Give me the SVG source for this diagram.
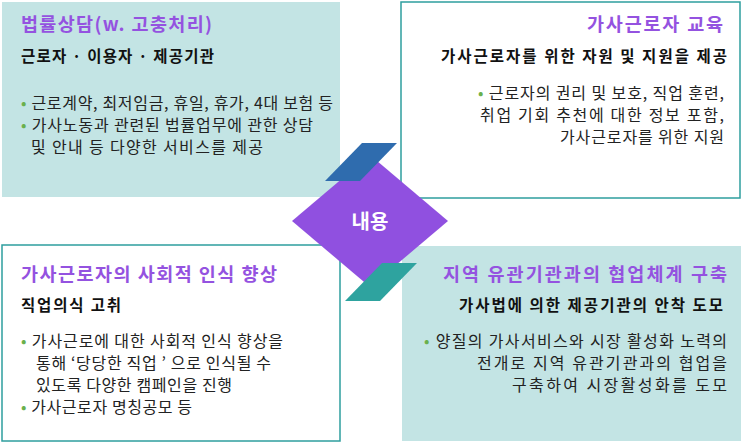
<svg xmlns="http://www.w3.org/2000/svg" width="743" height="443" viewBox="0 0 743 443">
<style>
text{font-family:"Noto Sans CJK KR","Noto Sans",sans-serif;}
.t{font-size:18.5px;font-weight:bold;fill:#9452e0}
.s{font-size:15.5px;font-weight:bold;fill:#111}
.b{font-size:16px;fill:#222}
.g{fill:#6ab04c}
.fill{fill:#c3e4e4}
.line{fill:#fff;stroke:#2e9e9e;stroke-width:1.5}
</style>
<rect width="743" height="443" fill="#fff"/>
<g id="box1">
<rect class="fill" x="2" y="2" width="338" height="195"/>
<text class="t" x="21" y="31" textLength="191" lengthAdjust="spacing">법률상담(w. 고충처리)</text>
<text class="s" x="21" y="62" textLength="193" lengthAdjust="spacing">근로자 · 이용자 · 제공기관</text>
<text class="b" x="21" y="109" textLength="312" lengthAdjust="spacing"><tspan class="g">• </tspan>근로계약, 최저임금, 휴일, 휴가, 4대 보험 등</text>
<text class="b" x="21" y="131" textLength="292" lengthAdjust="spacing"><tspan class="g">• </tspan>가사노동과 관련된 법률업무에 관한 상담</text>
<text class="b" x="31" y="153" textLength="232" lengthAdjust="spacing">및 안내 등  다양한 서비스를 제공</text>
</g>
<g id="box2">
<rect class="line" x="401" y="2" width="339" height="196"/>
<text class="t" x="723" y="31" text-anchor="end" textLength="136" lengthAdjust="spacing">가사근로자 교육</text>
<text class="s" x="727" y="62" text-anchor="end" textLength="286" lengthAdjust="spacing">가사근로자를 위한 자원 및 지원을 제공</text>
<text class="b" x="724" y="99" text-anchor="end" textLength="246" lengthAdjust="spacing"><tspan class="g">• </tspan>근로자의 권리 및 보호, 직업 훈련,</text>
<text class="b" x="724" y="121" text-anchor="end" textLength="244" lengthAdjust="spacing">취업 기회 추천에 대한 정보 포함,</text>
<text class="b" x="724" y="143" text-anchor="end" textLength="164" lengthAdjust="spacing">가사근로자를 위한 지원</text>
</g>
<g id="box3">
<rect class="line" x="2" y="245" width="338" height="196"/>
<text class="t" x="21" y="281" textLength="256" lengthAdjust="spacing">가사근로자의 사회적 인식 향상</text>
<text class="s" x="21" y="311" textLength="100" lengthAdjust="spacing">직업의식 고취</text>
<text class="b" x="21" y="347" textLength="262" lengthAdjust="spacing"><tspan class="g">• </tspan>가사근로에 대한 사회적 인식 향상을</text>
<text class="b" x="36" y="369" textLength="235" lengthAdjust="spacing">통해 ‘당당한 직업 ’ 으로 인식될 수</text>
<text class="b" x="36" y="391" textLength="196" lengthAdjust="spacing">있도록 다양한 캠페인을 진행</text>
<text class="b" x="21" y="413" textLength="171" lengthAdjust="spacing"><tspan class="g">• </tspan>가사근로자 명칭공모 등</text>
</g>
<g id="box4">
<rect class="fill" x="402" y="246" width="339" height="195"/>
<text class="t" x="727" y="281" text-anchor="end" textLength="284" lengthAdjust="spacing">지역 유관기관과의 협업체계 구축</text>
<text class="s" x="723" y="311" text-anchor="end" textLength="264" lengthAdjust="spacing">가사법에 의한 제공기관의 안착 도모</text>
<text class="b" x="727" y="347" text-anchor="end" textLength="303" lengthAdjust="spacing"><tspan class="g">• </tspan>양질의 가사서비스와 시장 활성화 노력의</text>
<text class="b" x="727" y="369" text-anchor="end" textLength="250" lengthAdjust="spacing">전개로 지역 유관기관과의 협업을</text>
<text class="b" x="727" y="391" text-anchor="end" textLength="215" lengthAdjust="spacing">구축하여 시장활성화를 도모</text>
</g>
<g id="center">
<polygon points="370,155 448,221 370,287 292,221" fill="#9050e0"/>
<polygon points="325,181 360,181 397,143 362,143" fill="#2f6cae"/>
<polygon points="345,301 380,301 417,263 382,263" fill="#2ea39f"/>
<text x="370" y="229" text-anchor="middle" font-size="20" font-weight="bold" fill="#fff">내용</text>
</g>
<g id="connectors"/>
</svg>
